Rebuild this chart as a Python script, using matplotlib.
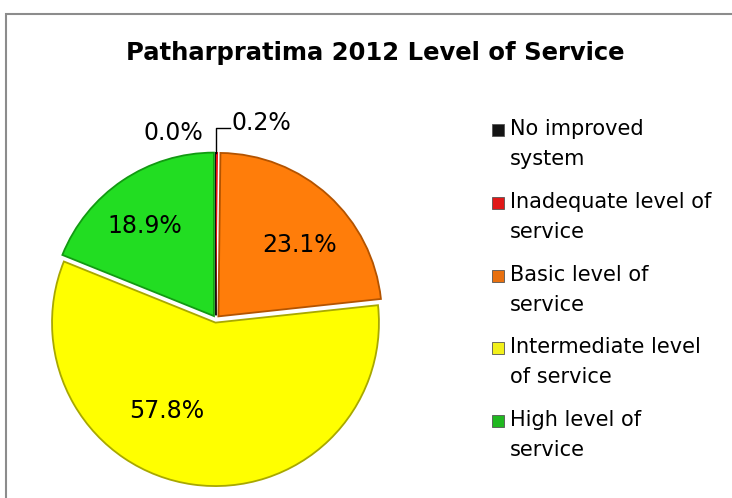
import matplotlib
matplotlib.use("Agg")
from matplotlib import pyplot as plt
from matplotlib.patches import Rectangle

# service level shares for Patharpratima, 2012 (percent)
categories = ["No improved\nsystem",
              "Inadequate level of\nservice",
              "Basic level of\nservice",
              "Intermediate level\nof service",
              "High level of\nservice"]
shares = [0.0, 0.2, 23.1, 57.8, 18.9]

pie_colors = ["#1a1a1a", "#e81414", "#ff7d0a", "#ffff00", "#22dd22"]
edge_colors = ["#000000", "#e81414", "#b35300", "#a8a800", "#129a12"]
key_colors = ["#141414", "#e01818", "#e8700f", "#f2f01a", "#20b820"]

fig = plt.figure(figsize=(7.32, 4.98), dpi=100)

# grey chart-area frame
fig.patches.append(Rectangle((6 / 732, -0.1), 1.1, 0.9719 + 0.1,
                             transform=fig.transFigure, fill=False,
                             edgecolor="#8c8c8c", linewidth=1.5))

fig.text(0.512, 0.893, "Patharpratima 2012 Level of Service",
         ha="center", va="center", fontsize=17.5, fontweight="bold")

ax = fig.add_axes([0.0628, 0.018, 0.4645, 0.6827])
wedges, texts, autotexts = ax.pie(
    shares, colors=pie_colors, startangle=90, counterclock=False,
    explode=[0.022] * len(shares), autopct="%.1f%%", pctdistance=0.69,
    wedgeprops=dict(linewidth=1.3), textprops=dict(fontsize=17))
for w, ec in zip(wedges, edge_colors):
    w.set_edgecolor(ec)
wedges[1].set_linewidth(0)
ax.set_xlim(-1.04, 1.04)
ax.set_ylim(-1.04, 1.04)
ax.set_aspect("equal")
ax.axis("off")

# small slices get their labels above the pie
autotexts[0].set_position((-0.263, 1.138))
autotexts[1].set_position((0.098, 1.199))
autotexts[1].set_ha("left")
autotexts[2].set_position((0.51, 0.45))
autotexts[3].set_position((-0.30, -0.563))
autotexts[4].set_position((-0.435, 0.57))
ax.plot([0.0, 0.0, 0.086], [1.015, 1.168, 1.168], color="black",
        linewidth=1.0, clip_on=False)

# legend drawn by hand so the key sits on the first text line
for i, (label, kc) in enumerate(zip(categories, key_colors)):
    y = 1 - (119 + i * 72.8) / 498
    fig.patches.append(Rectangle((492 / 732, y - 17 / 498), 12 / 732, 12 / 498,
                                 transform=fig.transFigure, facecolor=kc,
                                 edgecolor="#555555", linewidth=0.6))
    fig.text(510 / 732, y, label, ha="left", va="top", fontsize=15,
             linespacing=1.62)

fig.savefig("out.png", dpi=100)
